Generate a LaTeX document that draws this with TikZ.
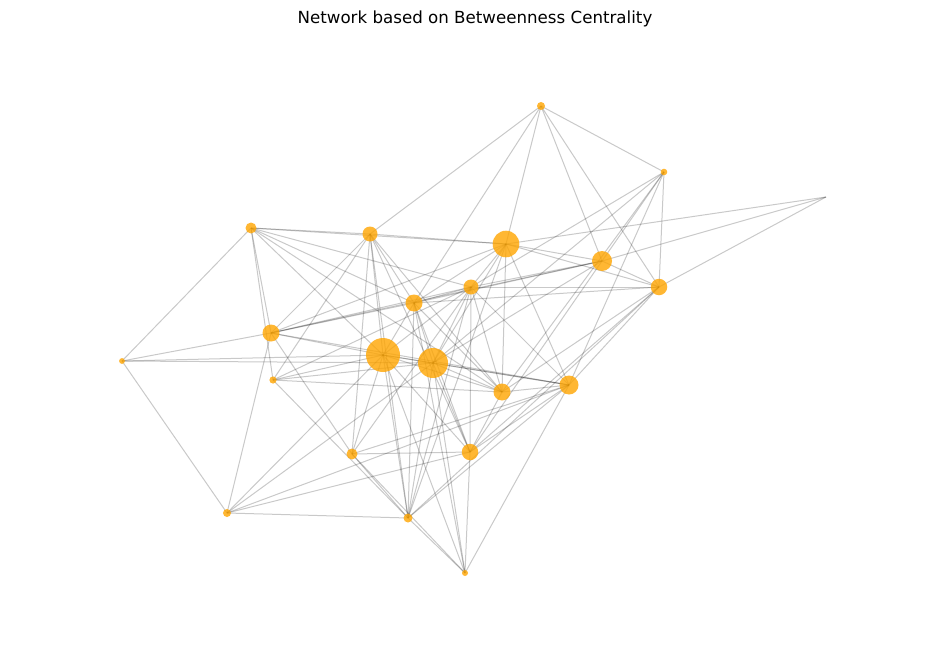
\documentclass[tikz,border=0pt]{standalone}
\usepackage{fontspec}
\setmainfont{DejaVu Sans}
\usetikzlibrary{backgrounds}
\definecolor{nodeor}{RGB}{255,165,0}
\begin{document}
\begin{tikzpicture}[x=1pt,y=-1pt,
  edge/.style={draw=black, draw opacity=0.21, line width=1pt},
  vert/.style={circle, fill=nodeor, fill opacity=0.8, inner sep=0pt, draw=none},
  title/.style={font=\fontsize{16.67}{20}\selectfont, anchor=base, inner sep=0pt}]
% nodes
\node[vert, minimum size=8pt]  (A) at (541,106) {};
\node[vert, minimum size=6.6pt](B) at (664,172) {};
\coordinate (C) at (826,197);
\node[vert, minimum size=11pt] (D) at (251,228) {};
\node[vert, minimum size=15pt] (E) at (370,234) {};
\node[vert, minimum size=26.6pt](F) at (506,244) {};
\node[vert, minimum size=20pt] (G) at (602,261) {};
\node[vert, minimum size=16.5pt](H) at (659,287) {};
\node[vert, minimum size=15pt] (I) at (471,287) {};
\node[vert, minimum size=17pt] (J) at (414,303) {};
\node[vert, minimum size=17pt] (K) at (271,333) {};
\node[vert, minimum size=5.8pt](L) at (122,361) {};
\node[vert, minimum size=34pt] (M) at (383,355) {};
\node[vert, minimum size=30pt] (N) at (433,363) {};
\node[vert, minimum size=7.2pt](O) at (273,380) {};
\node[vert, minimum size=17pt] (P) at (502,392) {};
\node[vert, minimum size=19pt] (Q) at (569,385) {};
\node[vert, minimum size=11pt] (R) at (352,454) {};
\node[vert, minimum size=16.5pt](S) at (470,452) {};
\node[vert, minimum size=8pt]  (T) at (227,513) {};
\node[vert, minimum size=9pt]  (U) at (408,518) {};
\node[vert, minimum size=6pt]  (V) at (465,573) {};
\node[title] (ttl) at (475,23.5) {Network based on Betweenness Centrality};
\begin{pgfonlayer}{background}
\path[use as bounding box, fill=white] (0,0) rectangle (950,658);
\foreach \a/\b in {A/B,A/E,A/F,A/G,A/H,A/J,
  B/G,B/H,B/I,B/N,B/P,B/Q,
  C/F,C/G,C/H,
  D/E,D/F,D/I,D/J,D/K,D/L,D/M,D/O,D/P,
  E/F,E/J,E/K,E/M,E/O,E/P,E/R,E/S,E/U,
  F/G,F/H,F/I,F/J,F/K,F/N,F/P,F/Q,F/U,
  G/H,G/I,G/J,G/K,G/N,G/S,
  H/I,H/J,H/P,H/S,H/U,H/Q,
  I/J,I/K,I/M,I/N,I/O,I/P,I/R,I/S,I/U,I/Q,
  J/K,J/M,J/N,J/P,J/S,J/U,J/V,
  K/M,K/Q,K/R,K/T,
  L/M,L/N,L/T,L/K,
  M/N,M/O,M/Q,M/R,M/T,M/U,M/V,M/S,M/P,
  N/O,N/P,N/Q,N/S,N/T,N/U,N/V,
  O/P,O/U,
  P/Q,P/S,
  Q/R,Q/S,Q/T,Q/U,Q/V,
  R/S,R/U,R/V,
  S/T,S/V,
  T/U,
  U/V}
  {\draw[edge] (\a.center) -- (\b.center);}
\end{pgfonlayer}
\end{tikzpicture}
\end{document}
